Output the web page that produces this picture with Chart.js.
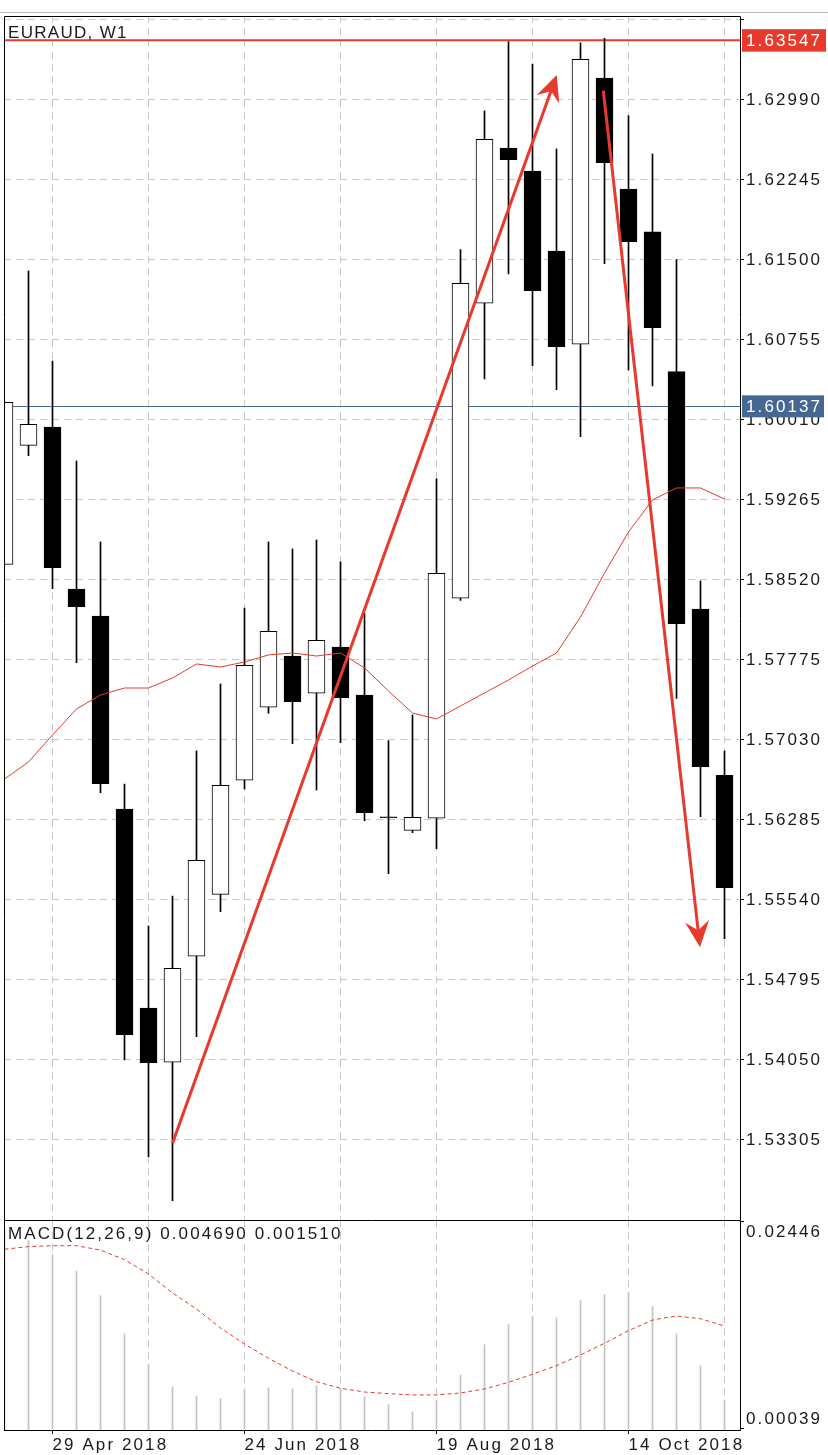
<!DOCTYPE html>
<html><head><meta charset="utf-8">
<script src="https://cdn.jsdelivr.net/npm/chart.js@4.4.1/dist/chart.umd.min.js"></script>
<style>
html,body{margin:0;padding:0;background:#fff;}
#wrap{position:relative;width:828px;height:1455px;overflow:hidden;background:#fff;}
#pA{position:absolute;left:0;top:0;width:828px;height:1220px;}
#pB{position:absolute;left:0;top:1220px;width:828px;height:235px;}
</style></head><body>
<div id="wrap"><div id="pA"><canvas id="cA"></canvas></div><div id="pB"><canvas id="cB"></canvas></div></div>
<script>
// ---------------- data ----------------
const weeks = ['15 Apr 2018','22 Apr 2018','29 Apr 2018','6 May 2018','13 May 2018','20 May 2018','27 May 2018',
  '3 Jun 2018','10 Jun 2018','17 Jun 2018','24 Jun 2018','1 Jul 2018','8 Jul 2018','15 Jul 2018','22 Jul 2018',
  '29 Jul 2018','5 Aug 2018','12 Aug 2018','19 Aug 2018','26 Aug 2018','2 Sep 2018','9 Sep 2018','16 Sep 2018',
  '23 Sep 2018','30 Sep 2018','7 Oct 2018','14 Oct 2018','21 Oct 2018','28 Oct 2018','4 Nov 2018','11 Nov 2018'];
const opens  = [1.58666,1.59774,1.59945,1.58436,1.58185,1.56387,1.54534,1.54029,1.55016,1.55593,1.56655,1.57335,1.57812,1.57465,1.57896,1.57449,1.56314,1.56189,1.56301,1.58350,1.61097,1.62543,1.62329,1.61584,1.60715,1.63195,1.62161,1.61761,1.60460,1.58250,1.56701];
const highs  = [1.60180,1.61398,1.60559,1.59628,1.58874,1.56620,1.55298,1.55577,1.56928,1.57552,1.58259,1.58874,1.58809,1.58893,1.58688,1.58210,1.57024,1.57263,1.59461,1.61596,1.62888,1.63533,1.63325,1.62534,1.63521,1.63565,1.62844,1.62487,1.61503,1.58511,1.56928];
const lows   = [1.58660,1.59678,1.58439,1.57750,1.56539,1.54050,1.53150,1.52740,1.54267,1.55431,1.56574,1.57279,1.56996,1.56564,1.57005,1.56278,1.55785,1.56167,1.56018,1.58330,1.60392,1.61370,1.60516,1.60292,1.59855,1.61466,1.60476,1.60327,1.57418,1.56316,1.55180];
const closes = [1.60175,1.59970,1.58635,1.58271,1.56623,1.54286,1.54025,1.54904,1.55910,1.56608,1.57726,1.58042,1.57387,1.57958,1.57424,1.56353,1.56305,1.56310,1.58582,1.61283,1.62624,1.62434,1.61214,1.60693,1.63369,1.62406,1.61670,1.60870,1.58113,1.56781,1.55655];
const maLine = [1.56667,1.56825,1.57077,1.57319,1.57449,1.57514,1.57514,1.57607,1.57738,1.57710,1.57756,1.57822,1.57840,1.57812,1.57840,1.57701,1.57486,1.57281,1.57226,1.57347,1.57468,1.57589,1.57719,1.57840,1.58175,1.58585,1.58967,1.59265,1.59377,1.59377,1.59274];
const macdMain = [0.02350,0.02218,0.02053,0.01867,0.01582,0.01142,0.00788,0.00525,0.00421,0.00390,0.00490,0.00517,0.00505,0.00540,0.00510,0.00413,0.00320,0.00239,0.00375,0.00664,0.01015,0.01246,0.01343,0.01327,0.01524,0.01593,0.01621,0.01454,0.01142,0.00772,0.00375];
const macdSignal = [0.02119,0.02150,0.02160,0.02160,0.02110,0.01998,0.01833,0.01613,0.01428,0.01208,0.01023,0.00857,0.00710,0.00586,0.00510,0.00467,0.00448,0.00433,0.00433,0.00456,0.00502,0.00579,0.00672,0.00772,0.00895,0.01031,0.01177,0.01300,0.01347,0.01315,0.01231];
const priceTicks = [1.63735,1.62990,1.62245,1.61500,1.60755,1.60010,1.59265,1.58520,1.57775,1.57030,1.56285,1.55540,1.54795,1.54050,1.53305];
const priceTickLabels = ['','1.62990','1.62245','1.61500','1.60755','1.60010','1.59265','1.58520','1.57775','1.57030','1.56285','1.55540','1.54795','1.54050','1.53305'];
const macdTicks = [0.02446,0.00039];
const macdTickLabels = ['0.02446','0.00039'];
const gridWeeks = [2,6,10,14,18,22,26,30];
const labelWeeks = [2,10,18,26];
const levelRed = 1.63547, levelRedLabel = '1.63547';
const levelBlue = 1.60137, levelBlueLabel = '1.60137';
const arrowUp = [[7.0,1.53275],[23.01,1.63223]];
const arrowDown = [[24.95,1.63076],[28.98,1.55100]];
const symbolTitle = 'EURAUD, W1';
const macdTitle = 'MACD(12,26,9) 0.004690 0.001510';

// ---------------- styles ----------------
const RED = '#e63a2d', BLUE_BOX = '#466792', BLUE_LINE = '#416a99', GRID = '#c8c8c8', TXT = '#1a1a1a';
const FONT = 'Liberation Sans, Arial, sans-serif';
const LS = '2.1px';
const xMin = -1/48, xMax = 30 + 2/3 - 1/48;
const idx = weeks.map((_, i) => i);

function xScale(showLabels) {
  return {
    type: 'linear', min: xMin, max: xMax, offset: false,
    afterBuildTicks: s => { s.ticks = gridWeeks.map(v => ({value: v})); },
    grid: { color: GRID, lineWidth: 1, offset: false, drawTicks: showLabels, tickLength: 4,
      tickColor: c => (c.tick && labelWeeks.includes(c.tick.value)) ? '#000' : 'rgba(0,0,0,0)' },
    border: { display: false, dash: [7, 5] },
    ticks: { display: showLabels, autoSkip: false, maxRotation: 0, minRotation: 0, align: 'start', padding: 1,
      color: TXT, font: { family: FONT, size: 17 },
      callback: v => labelWeeks.includes(v) ? weeks[v] : '' },
    afterFit: s => { s.height = showLabels ? 25 : 0; s.paddingLeft = 0; s.paddingRight = 0; s.paddingTop = 0; s.paddingBottom = 0; }
  };
}

const spacingPlugin = { id: 'spacing', beforeDraw(chart) { chart.ctx.letterSpacing = LS; } };

function drawArrow(ctx, x0, y0, x1, y1) {
  const dx = x1 - x0, dy = y1 - y0, L = Math.hypot(dx, dy), ux = dx / L, uy = dy / L, nx = -uy, ny = ux;
  const headLen = 26, halfW = 12, notch = 17;
  const bx = x1 - ux * headLen, by = y1 - uy * headLen;
  const mx = x1 - ux * notch, my = y1 - uy * notch;
  ctx.save();
  ctx.strokeStyle = RED; ctx.fillStyle = RED; ctx.lineWidth = 3; ctx.lineCap = 'butt';
  ctx.beginPath(); ctx.moveTo(x0, y0); ctx.lineTo(mx, my); ctx.stroke();
  ctx.beginPath(); ctx.moveTo(x1, y1); ctx.lineTo(bx + nx * halfW, by + ny * halfW); ctx.lineTo(mx, my);
  ctx.lineTo(bx - nx * halfW, by - ny * halfW); ctx.closePath(); ctx.fill();
  ctx.restore();
}

const mainPlugin = {
  id: 'mainDeco',
  beforeDatasetsDraw(chart) {
    const {ctx, chartArea: a, scales: {y}} = chart;
    ctx.save();
    const yr = y.getPixelForValue(levelRed);
    ctx.strokeStyle = RED; ctx.lineWidth = 2;
    ctx.beginPath(); ctx.moveTo(a.left, yr); ctx.lineTo(a.right, yr); ctx.stroke();
    const yb = Math.floor(y.getPixelForValue(levelBlue)) + 0.5;
    ctx.strokeStyle = BLUE_LINE; ctx.lineWidth = 1;
    ctx.beginPath(); ctx.moveTo(a.left, yb); ctx.lineTo(a.right, yb); ctx.stroke();
    ctx.restore();
  },
  afterDatasetsDraw(chart) {
    const {ctx, scales: {x, y}} = chart;
    for (const ar of [arrowUp, arrowDown]) {
      drawArrow(ctx, x.getPixelForValue(ar[0][0]), y.getPixelForValue(ar[0][1]),
                     x.getPixelForValue(ar[1][0]), y.getPixelForValue(ar[1][1]));
    }
  },
  afterDraw(chart) {
    const {ctx, chartArea: a, scales: {y}, width} = chart;
    ctx.save();
    ctx.strokeStyle = '#b9b9b9'; ctx.lineWidth = 1;
    ctx.beginPath(); ctx.moveTo(0, 12.5); ctx.lineTo(width, 12.5); ctx.stroke();
    ctx.strokeStyle = '#000'; ctx.lineWidth = 1;
    ctx.beginPath();
    ctx.moveTo(a.left + 0.5, a.bottom); ctx.lineTo(a.left + 0.5, a.top + 0.5);
    ctx.lineTo(a.right + 0.5, a.top + 0.5); ctx.lineTo(a.right + 0.5, a.bottom);
    ctx.stroke();
    ctx.letterSpacing = '1.3px';
    ctx.fillStyle = TXT; ctx.font = '17px ' + FONT; ctx.textBaseline = 'alphabetic'; ctx.textAlign = 'left';
    ctx.fillText(symbolTitle, 8, 37.5);
    ctx.letterSpacing = LS;
    ctx.textBaseline = 'middle';
    const yr = y.getPixelForValue(levelRed);
    ctx.fillStyle = RED; ctx.fillRect(742, yr - 11, 84, 22.5);
    ctx.fillStyle = '#fff'; ctx.fillText(levelRedLabel, 746, yr + 1);
    const yb = y.getPixelForValue(levelBlue);
    ctx.fillStyle = BLUE_BOX; ctx.fillRect(742, yb - 11, 82, 22);
    ctx.fillStyle = '#fff'; ctx.fillText(levelBlueLabel, 746, yb + 1);
    ctx.restore();
  }
};

const macdPlugin = {
  id: 'macdDeco',
  afterDraw(chart) {
    const {ctx, chartArea: a, scales: {y}} = chart;
    ctx.save();
    ctx.strokeStyle = '#000'; ctx.lineWidth = 1;
    ctx.beginPath();
    ctx.moveTo(a.left + 0.5, a.bottom + 0.5); ctx.lineTo(a.left + 0.5, 0.5); ctx.lineTo(a.right + 0.5, 0.5); ctx.lineTo(a.right + 0.5, a.bottom + 0.5);
    ctx.moveTo(a.left, a.bottom + 0.5); ctx.lineTo(a.right + 0.5, a.bottom + 0.5);
    ctx.stroke();
    ctx.letterSpacing = LS;
    ctx.fillStyle = TXT; ctx.font = '17px ' + FONT; ctx.textAlign = 'left';
    ctx.textBaseline = 'alphabetic';
    ctx.fillText(macdTitle, 8, 18.5);
    ctx.textBaseline = 'middle';
    const yTop = y.getPixelForValue(macdTicks[0]), yBot = y.getPixelForValue(macdTicks[1]);
    ctx.fillText(macdTickLabels[0], 746, yTop + 11.5);
    ctx.fillText(macdTickLabels[1], 746, yBot - 10);
    ctx.restore();
  }
};

const chartA = new Chart(document.getElementById('cA'), {
  type: 'bar',
  data: {
    datasets: [
      { type: 'line', data: idx.map(i => ({x: i, y: maLine[i]})), borderColor: RED, borderWidth: 1,
        pointRadius: 0, tension: 0, order: 1 },
      { type: 'bar', data: idx.map(i => ({x: i, y: [Math.min(opens[i], closes[i]), Math.max(opens[i], closes[i])]})),
        backgroundColor: idx.map(i => closes[i] > opens[i] ? '#ffffff' : '#000000'),
        borderColor: '#000', borderWidth: 1, borderSkipped: false, barThickness: 17, grouped: false, order: 2 },
      { type: 'bar', data: idx.map(i => ({x: i, y: [lows[i], highs[i]]})), backgroundColor: '#000',
        borderWidth: 0, barThickness: 1, grouped: false, order: 3 }
    ]
  },
  options: {
    responsive: true, maintainAspectRatio: false, animation: false, events: [],
    layout: { padding: { left: 4, top: 16, right: 0, bottom: 0 } },
    plugins: { legend: { display: false }, tooltip: { enabled: false } },
    scales: {
      x: xScale(false),
      y: {
        type: 'linear', position: 'right', min: 1.52560, max: 1.63772, beginAtZero: false,
        afterBuildTicks: s => { s.ticks = priceTicks.map(v => ({value: v})); },
        grid: { color: GRID, lineWidth: 1, drawTicks: true, tickLength: 4, tickColor: '#000' },
        border: { display: false, dash: [7, 5] },
        ticks: { padding: 2, color: TXT, font: { family: FONT, size: 17 }, callback: (v, i) => priceTickLabels[i] },
        afterFit: s => { s.width = 88; s.paddingTop = 0; s.paddingBottom = 0; }
      }
    }
  },
  plugins: [spacingPlugin, mainPlugin]
});

const chartB = new Chart(document.getElementById('cB'), {
  type: 'bar',
  data: {
    datasets: [
      { type: 'line', data: idx.map(i => ({x: i, y: macdSignal[i]})), borderColor: RED, borderWidth: 1,
        borderDash: [4, 3], pointRadius: 0, tension: 0, order: 1 },
      { type: 'bar', data: idx.map(i => ({x: i, y: macdMain[i]})), backgroundColor: '#c3c3c3',
        borderWidth: 0, barThickness: 1, grouped: false, order: 2 }
    ]
  },
  options: {
    responsive: true, maintainAspectRatio: false, animation: false, events: [],
    layout: { padding: { left: 4, top: 0, right: 0, bottom: 0 } },
    plugins: { legend: { display: false }, tooltip: { enabled: false } },
    scales: {
      x: xScale(true),
      y: {
        type: 'linear', position: 'right', min: 0.000274, max: 0.024576, beginAtZero: false,
        afterBuildTicks: s => { s.ticks = macdTicks.map(v => ({value: v})); },
        grid: { drawOnChartArea: false, drawTicks: true, tickLength: 4, tickColor: '#000' },
        border: { display: false },
        ticks: { display: false },
        afterFit: s => { s.width = 88; s.paddingTop = 0; s.paddingBottom = 0; }
      }
    }
  },
  plugins: [spacingPlugin, macdPlugin]
});
</script>
</body></html>
